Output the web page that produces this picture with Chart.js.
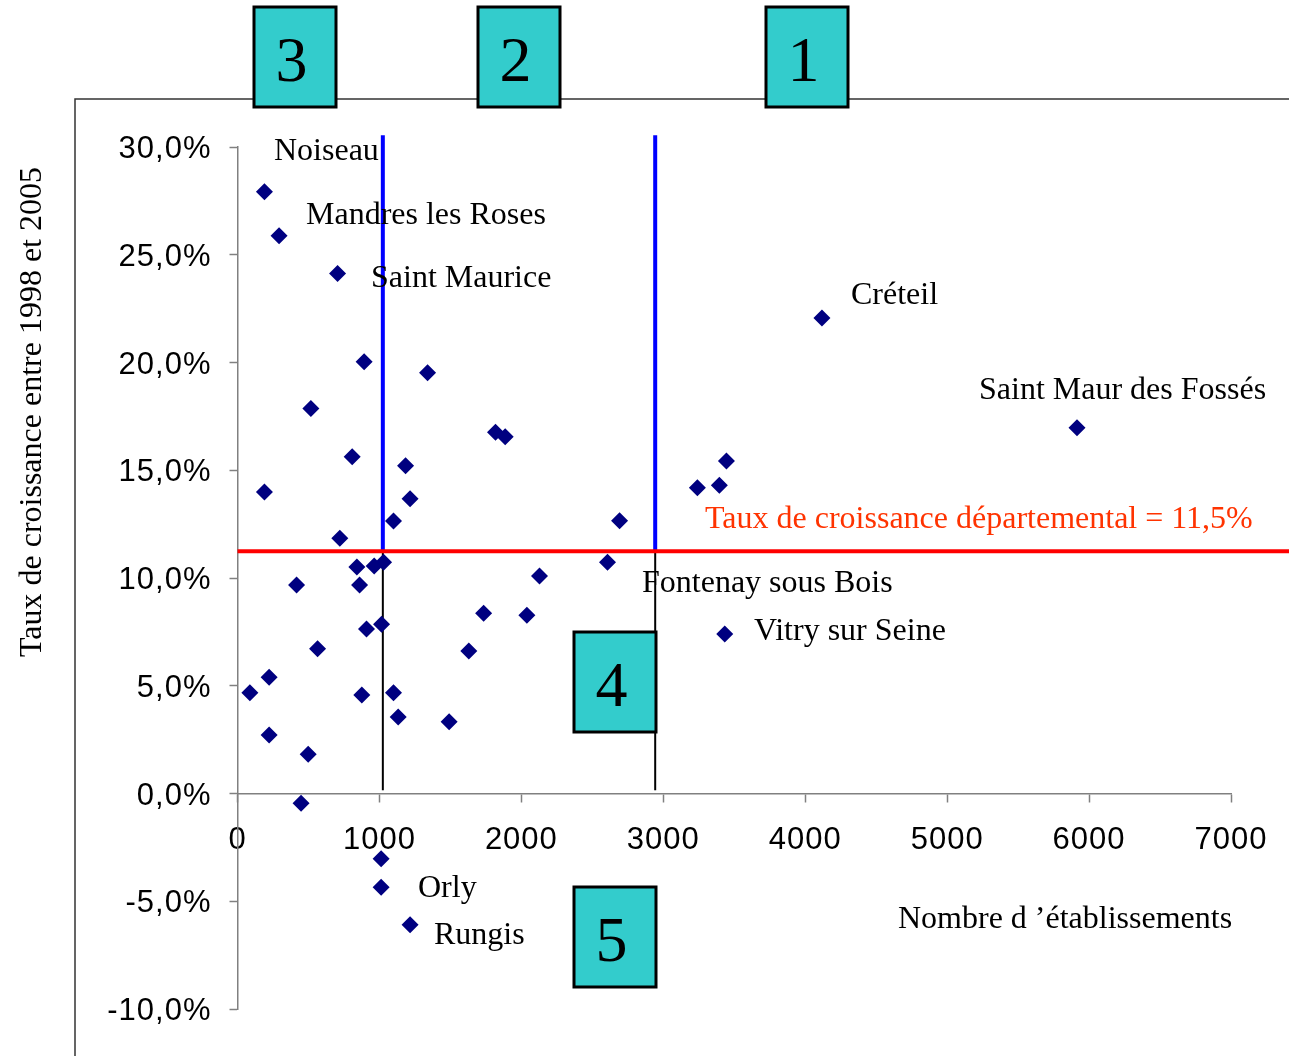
<!DOCTYPE html>
<html>
<head>
<meta charset="utf-8">
<script src="https://cdn.jsdelivr.net/npm/chart.js@4/dist/chart.umd.min.js"></script>
<style>
  html, body { margin: 0; padding: 0; background: #fff; }
  #wrap { width: 1289px; height: 1056px; }
</style>
</head>
<body>
<div id="wrap"><canvas id="nuage" width="1289" height="1056"></canvas></div>
<script>
// nombre d'établissements par commune
const etablissements = [190, 293, 705, 4118, 892, 1339, 517, 5915, 1818, 1886, 808, 3445, 1184, 3240, 3395, 190,
  1216, 1099, 2692, 721, 841, 963, 1029, 2607, 2128, 416, 860, 1734, 2039, 909, 1015, 3433, 564, 1630, 223, 87,
  876, 1099, 1132, 1491, 223, 498, 448, 1012, 1012, 1216];
// taux de croissance 1998-2005 (%)
const croissance = [27.92, 25.88, 24.13, 22.06, 20.03, 19.52, 17.87, 16.97, 16.76, 16.55, 15.63, 15.43, 15.21, 14.19,
  14.30, 13.99, 13.68, 12.64, 12.66, 11.84, 10.51, 10.56, 10.73, 10.73, 10.09, 9.68, 9.68, 8.36, 8.27, 7.63, 7.85,
  7.40, 6.72, 6.61, 5.39, 4.68, 4.57, 4.68, 3.55, 3.33, 2.72, 1.82, -0.45, -3.03, -4.35, -6.09];

const seuilsEtab = [1024, 2943];       // séparations verticales
const tauxDepartemental = 11.24;       // ligne rouge
const hautSeuils = 30.55;              // haut des lignes bleues
const finLigneRouge = 7410;

const xTicks = [0, 1000, 2000, 3000, 4000, 5000, 6000, 7000];
const yTicks = [-10, -5, 0, 5, 10, 15, 20, 25, 30];

const points = etablissements.map((v, i) => ({ x: v, y: croissance[i] }));

// textes posés sur le graphique (gauche, ligne de base)
const etiquettes = [
  ['Noiseau', 274, 160],
  ['Mandres les Roses', 306, 224],
  ['Saint Maurice', 371, 287],
  ['Créteil', 851, 304],
  ['Saint Maur des Fossés', 979, 399],
  ['Fontenay sous Bois', 642, 592],
  ['Vitry sur Seine', 754, 640],
  ['Orly', 418, 897],
  ['Rungis', 434, 944],
  ['Nombre d \u2019établissements', 898, 928]
];
const zones = [
  ['3', 254, 7], ['2', 478, 7], ['1', 766, 7], ['4', 574, 632], ['5', 574, 887]
];

const serif = '32px "Liberation Serif", "Times New Roman", serif';

const decor = {
  id: 'decor',
  beforeDraw(chart) { chart.ctx.letterSpacing = '1px'; },
  beforeDatasetsDraw(chart) { chart.ctx.letterSpacing = '0px'; },
  afterDraw(chart) {
    const ctx = chart.ctx;
    ctx.save();
    ctx.letterSpacing = '0px';
    // cadre
    ctx.strokeStyle = '#333';
    ctx.lineWidth = 1.5;
    ctx.beginPath();
    ctx.moveTo(75, 1056);
    ctx.lineTo(75, 99);
    ctx.lineTo(1289, 99);
    ctx.stroke();

    // zones numérotées
    zones.forEach(([n, x, y]) => {
      ctx.fillStyle = '#33CCCC';
      ctx.fillRect(x, y, 82, 100);
      ctx.strokeStyle = '#000';
      ctx.lineWidth = 3;
      ctx.strokeRect(x, y, 82, 100);
      ctx.fillStyle = '#000';
      ctx.font = '64px "Liberation Serif", "Times New Roman", serif';
      ctx.textAlign = 'center';
      ctx.textBaseline = 'alphabetic';
      ctx.fillText(n, x + 37.5, y + 74);
    });

    ctx.font = serif;
    ctx.textAlign = 'left';
    ctx.textBaseline = 'alphabetic';
    ctx.fillStyle = '#000';
    etiquettes.forEach(([t, x, y]) => ctx.fillText(t, x, y));

    ctx.fillStyle = 'rgb(255,51,0)';
    ctx.fillText('Taux de croissance départemental = 11,5%', 705, 528);

    ctx.fillStyle = '#000';
    ctx.translate(41, 412);
    ctx.rotate(-Math.PI / 2);
    ctx.font = serif;
    ctx.textAlign = 'center';
    ctx.textBaseline = 'alphabetic';
    ctx.fillText('Taux de croissance entre 1998 et 2005', 0, 0);
    ctx.restore();
  }
};

const tickFont = { family: '"Liberation Sans", Arial, sans-serif', size: 31 };

new Chart(document.getElementById('nuage'), {
  type: 'scatter',
  data: {
    datasets: [
      {
        data: points,
        pointStyle: 'rectRot',
        pointRadius: 8.5,
        backgroundColor: '#000080',
        borderWidth: 0,
        order: 0
      },
      ...seuilsEtab.map(s => ({
        data: [{ x: s, y: tauxDepartemental }, { x: s, y: hautSeuils }],
        showLine: true, borderColor: '#0000FF', borderWidth: 4, pointRadius: 0, clip: false, order: 3
      })),
      ...seuilsEtab.map(s => ({
        data: [{ x: s, y: 0.15 }, { x: s, y: tauxDepartemental }],
        showLine: true, borderColor: '#000', borderWidth: 2, pointRadius: 0, clip: false, order: 3
      })),
      {
        data: [{ x: 0, y: tauxDepartemental }, { x: finLigneRouge, y: tauxDepartemental }],
        showLine: true, borderColor: '#FF0000', borderWidth: 4, pointRadius: 0, clip: false, order: 2
      }
    ]
  },
  options: {
    responsive: false,
    animation: false,
    devicePixelRatio: 1,
    layout: { padding: { left: 0, top: 147, right: 58, bottom: 47 } },
    plugins: { legend: { display: false }, tooltip: { enabled: false } },
    scales: {
      x: {
        type: 'linear',
        min: 0,
        max: 7000,
        position: { y: 0 },
        afterBuildTicks: s => { s.ticks = xTicks.map(v => ({ value: v })); },
        ticks: { color: '#000', font: tickFont, padding: 20, maxRotation: 0, autoSkip: false,
          callback: v => String(v) },
        grid: { drawOnChartArea: false, color: '#808080', tickLength: 8, tickWidth: 1.5 },
        border: { color: '#808080', width: 1.5 }
      },
      y: {
        type: 'linear',
        min: -10,
        max: 30,
        position: 'left',
        afterBuildTicks: s => { s.ticks = yTicks.map(v => ({ value: v })); },
        afterFit: s => { s.width = 237.5; },
        ticks: { color: '#000', font: tickFont, padding: 18, autoSkip: false, labelOffset: 2.5,
          callback: v => v.toFixed(1).replace('.', ',') + '%' },
        grid: { drawOnChartArea: false, color: '#808080', tickLength: 8, tickWidth: 1.5 },
        border: { color: '#808080', width: 1.5 }
      }
    }
  },
  plugins: [decor]
});
</script>
</body>
</html>
